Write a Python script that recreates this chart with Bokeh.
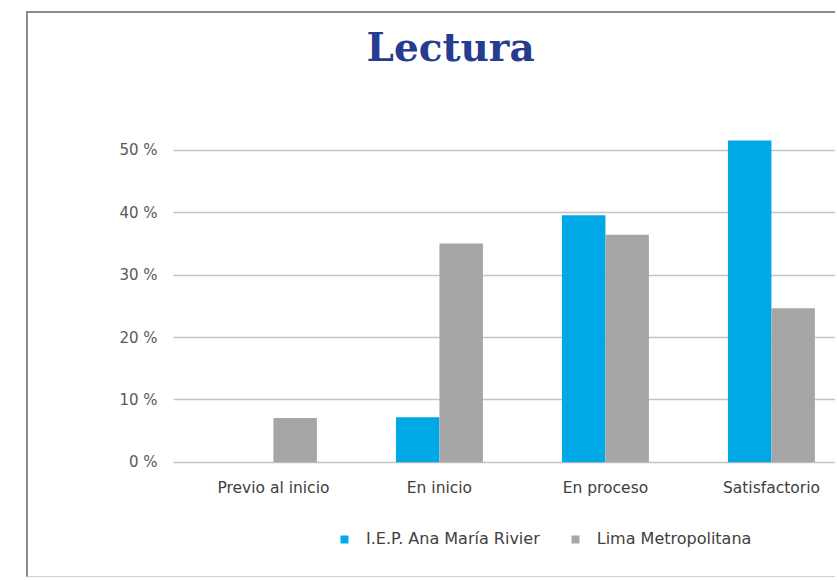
import numpy as np
from bokeh.plotting import figure
from bokeh.layouts import column
from bokeh.models import Range1d, FixedTicker, Legend, LegendItem, ColumnDataSource
from bokeh.embed import file_html
from bokeh.resources import INLINE

categories = ["Previo al inicio", "En inicio", "En proceso", "Satisfactorio"]
series_names = ["I.E.P. Ana María Rivier", "Lima Metropolitana"]
iep_values = [0.0, 7.2, 39.6, 51.6]
lima_values = [7.1, 35.1, 36.5, 24.7]
y_ticks = [0, 10, 20, 30, 40, 50]
y_tick_labels = ["0 %", "10 %", "20 %", "30 %", "40 %", "50 %"]

BLUE = "#00A9E6"
GRAY = "#A6A6A6"
TEXT = "#404040"
FONT = "DejaVu Sans"
BORDER = "2px solid #8c8c8c"
bar_w = 0.262

idx = np.arange(len(categories))
src = ColumnDataSource(dict(
    x_iep=idx - bar_w / 2, x_lima=idx + bar_w / 2,
    iep=iep_values, lima=lima_values, cat=categories))

# ---- main chart ----
p = figure(width=809, height=487,
           x_range=Range1d(-0.602, 3.398), y_range=Range1d(-0.37, 62.19),
           output_backend="svg", toolbar_location=None,
           min_border_left=145, min_border_right=0,
           min_border_top=61, min_border_bottom=36,
           title="Lectura")
p.margin = (11, 0, 0, 26)
p.styles = {"border-left": BORDER, "border-top": BORDER}
p.outline_line_color = None
p.background_fill_color = "white"
p.border_fill_color = "white"

p.title.text_font = "DejaVu Serif"
p.title.text_font_style = "bold"
p.title.text_font_size = "39px"
p.title.text_color = "#263C8E"
p.title.align = "left"
p.title.offset = 193

p.vbar(x="x_iep", top="iep", width=bar_w, source=src, fill_color=BLUE, line_color=None)
p.vbar(x="x_lima", top="lima", width=bar_w, source=src, fill_color=GRAY, line_color=None)

p.xaxis.ticker = FixedTicker(ticks=list(idx))
p.xaxis.major_label_overrides = {int(i): c for i, c in zip(idx, categories)}
p.xaxis.axis_line_color = None
p.xaxis.major_tick_line_color = None
p.xaxis.minor_tick_line_color = None
p.xaxis.major_tick_out = 0
p.xaxis.major_label_standoff = 14
p.xaxis.major_label_text_font = FONT
p.xaxis.major_label_text_font_size = "15.5px"
p.xaxis.major_label_text_color = TEXT

p.yaxis.ticker = FixedTicker(ticks=y_ticks)
p.yaxis.major_label_overrides = {t: l for t, l in zip(y_ticks, y_tick_labels)}
p.yaxis.axis_line_color = None
p.yaxis.major_tick_line_color = None
p.yaxis.minor_tick_line_color = None
p.yaxis.major_tick_out = 0
p.yaxis.major_label_standoff = 16
p.yaxis.major_label_text_font = FONT
p.yaxis.major_label_text_font_size = "15px"
p.yaxis.major_label_text_color = "#595959"

p.xgrid.grid_line_color = None
p.ygrid.grid_line_color = "#C4C4C4"
p.ygrid.grid_line_width = 1.5

# ---- legend strip (hidden copies of the series supply the legend swatches) ----
q = figure(width=809, height=79, x_range=Range1d(0, 1), y_range=Range1d(0, 1),
           output_backend="svg", toolbar_location=None,
           x_axis_type=None, y_axis_type=None,
           min_border_left=0, min_border_right=0, min_border_top=0, min_border_bottom=0)
q.margin = (0, 0, 0, 26)
q.styles = {"border-left": BORDER, "border-bottom": "1px solid #d0d0d0"}
q.outline_line_color = None
q.xgrid.visible = False
q.ygrid.visible = False
k1 = q.vbar(x="x_iep", top="iep", width=bar_w, source=src,
            fill_color=BLUE, line_color=None, visible=False)
k2 = q.vbar(x="x_lima", top="lima", width=bar_w, source=src,
            fill_color=GRAY, line_color=None, visible=False)

legend = Legend(items=[LegendItem(label=series_names[0], renderers=[k1]),
                       LegendItem(label=series_names[1], renderers=[k2])],
                orientation="horizontal", location=(166, 29))
legend.click_policy = "none"
legend.glyph_width = 10
legend.glyph_height = 10
legend.label_standoff = 17
legend.spacing = 30
legend.padding = 0
legend.margin = 0
legend.border_line_color = None
legend.background_fill_alpha = 0
legend.label_text_font = FONT
legend.label_text_font_size = "16px"
legend.label_text_color = TEXT
q.add_layout(legend, "center")

layout = column(p, q, spacing=0)
open("out.html", "w").write(file_html(layout, INLINE))
